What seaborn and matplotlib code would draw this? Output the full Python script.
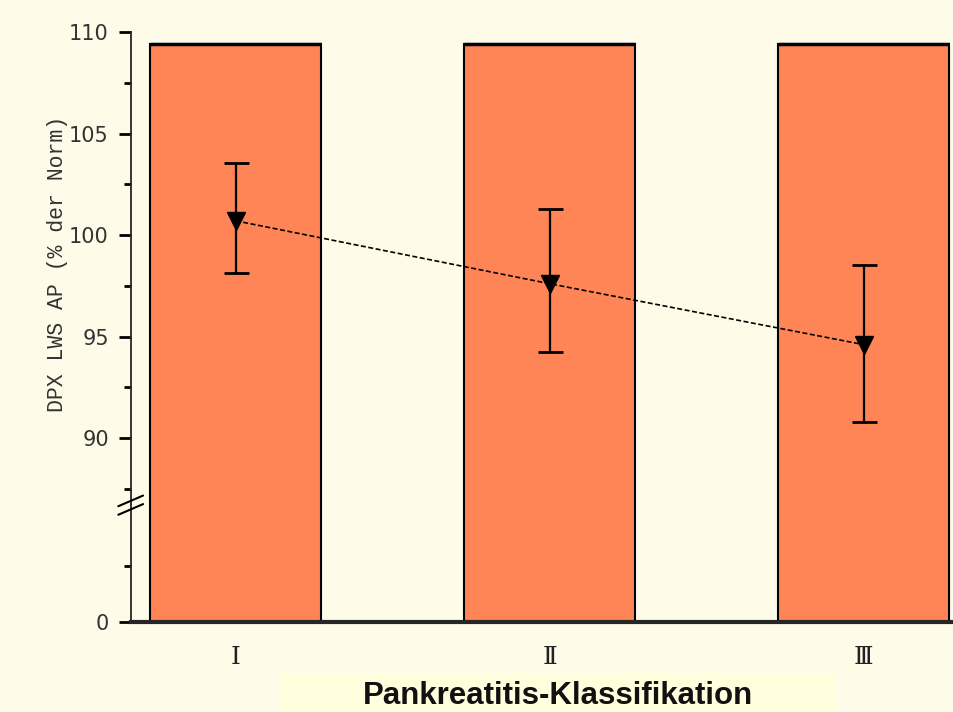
import matplotlib
matplotlib.use("Agg")
import matplotlib.pyplot as plt
import numpy as np
import pandas as pd
import seaborn as sns
from matplotlib.patches import Rectangle

# data
stages = ["Ⅰ", "Ⅱ", "Ⅲ"]
bar_height = [109.4, 109.4, 109.4]
means = [100.7, 97.6, 94.6]
err_low = [98.15, 94.25, 90.8]
err_high = [103.55, 101.3, 98.5]

bg = "#FEFBE9"
bar_col = "#FF8456"

sns.set_theme(style="ticks")
plt.rcParams["font.family"] = ["DejaVu Sans"]

df = pd.DataFrame({"stage": stages, "height": bar_height})

fig = plt.figure(figsize=(9.54, 7.12), dpi=100, facecolor=bg)
ax_top = fig.add_axes([0.1373, 0.2907, 0.8627, 0.955 - 0.2907])
ax_bot = fig.add_axes([0.1373, 0.1264, 0.8627, 0.2907 - 0.1264], sharex=ax_top)

for ax in (ax_top, ax_bot):
    ax.set_facecolor(bg)
    sns.barplot(data=df, x="stage", y="height", ax=ax, color=bar_col,
                width=0.545, edgecolor="black", linewidth=1.5, saturation=1)
    ax.spines["top"].set_visible(False)
    ax.spines["right"].set_visible(False)
    ax.set_xlim(-0.334, 2.287)
    ax.set_xlabel("")

# upper part of the broken axis
ax_top.set_ylim(86.7, 110)
ax_top.spines["bottom"].set_visible(False)
ax_top.tick_params(axis="x", bottom=False, labelbottom=False)
ax_top.set_yticks([90, 95, 100, 105, 110])
ax_top.set_yticks([87.5, 92.5, 97.5, 102.5, 107.5], minor=True)
ax_top.tick_params(axis="y", which="major", length=9, width=2, colors="black",
                   labelcolor="#333333", labelsize=15, pad=7)
ax_top.tick_params(axis="y", which="minor", length=5, width=2, colors="black")
ax_top.spines["left"].set_linewidth(1.3)
ax_top.set_ylabel("DPX LWS AP (% der Norm)", family="Liberation Mono",
                  fontsize=15.5, color="#333333")
ax_top.yaxis.set_label_coords(-0.077, 0.51)

# thick top edges of bars
for p in ax_top.patches:
    x0 = p.get_x()
    ax_top.plot([x0, x0 + p.get_width()], [p.get_height()] * 2, color="black", lw=2.5,
                solid_capstyle="butt")

# lower part
ax_bot.set_ylim(0, 2.1)
ax_bot.set_yticks([0])
ax_bot.set_yticks([1], minor=True)
ax_bot.tick_params(axis="y", which="major", length=9, width=2, colors="black",
                   labelcolor="#333333", labelsize=15, pad=7)
ax_bot.tick_params(axis="y", which="minor", length=5, width=2, colors="black")
ax_bot.spines["left"].set_linewidth(1.3)
ax_bot.spines["bottom"].set_linewidth(3)
ax_bot.set_ylabel("")
ax_bot.set_xticks([0, 1, 2])
ax_bot.set_xticklabels(stages, family=["DejaVu Serif", "DejaVu Sans"],
                       fontsize=18, color="#222222")
ax_bot.tick_params(axis="x", length=0, pad=17)

# means with error bars and dashed trend line
x = np.arange(len(stages))
ax_top.plot(x, means, color="black", lw=1.2, linestyle=(0, (3, 1.5)), zorder=4)
ax_top.errorbar(x, means,
                yerr=[np.array(means) - np.array(err_low), np.array(err_high) - np.array(means)],
                fmt="v", color="black", markersize=13, capsize=9, elinewidth=1.6,
                capthick=2, zorder=5)

# break marks on the y axis
kw = dict(transform=fig.transFigure, color="black", lw=1.5, clip_on=False)
for dy in (-0.006, 0.006):
    fig.add_artist(plt.Line2D([0.124, 0.150], [0.283 + dy, 0.298 + dy], **kw))

# x label on its own pale box
fig.add_artist(Rectangle((0.2935, 0.0), 0.5815, 0.0548, transform=fig.transFigure,
                         facecolor="#FFFFDD", edgecolor="none"))
fig.text(0.585, 0.011, "Pankreatitis-Klassifikation", ha="center", va="baseline",
         family="Liberation Sans", weight="bold", fontsize=22.5, color="#111111")

fig.savefig("out.png", dpi=100, facecolor=bg)
